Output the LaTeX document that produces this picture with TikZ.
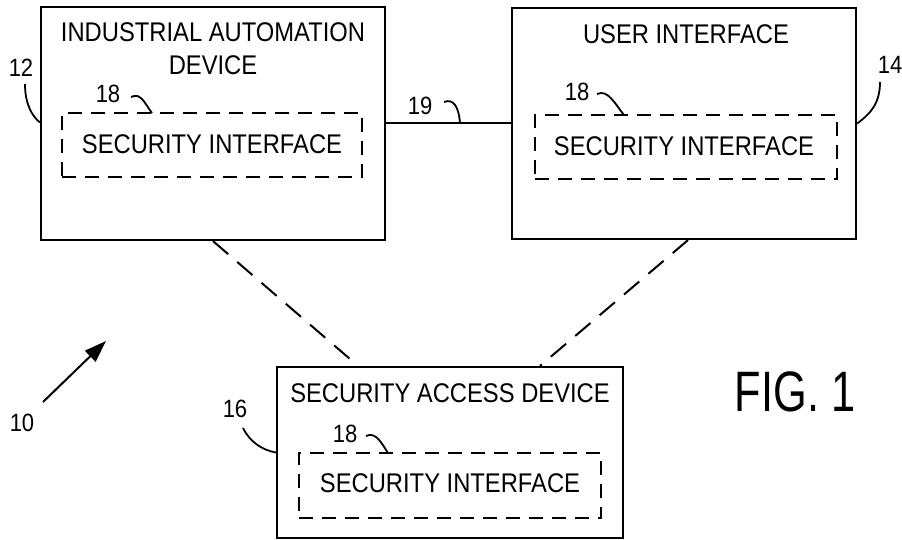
\documentclass[tikz,border=0pt]{standalone}
\usepackage{fontspec}
\setmainfont[FakeStretch=0.88]{Liberation Sans}
\newfontfamily\figfont[FakeStretch=0.76]{Liberation Sans}
\usetikzlibrary{arrows.meta,calc}
\begin{document}
\begin{tikzpicture}[x=1pt,y=-1pt,
  box/.style={draw,line width=2.2pt,rectangle,inner sep=0pt},
  ibox/.style={draw,line width=2pt,rectangle,inner sep=0pt,dash pattern=on 14pt off 9pt},
  txt/.style={inner sep=0pt,font=\fontsize{27}{33}\selectfont,align=center},
  num/.style={inner sep=0pt,font=\fontsize{25}{27}\selectfont},
  lead/.style={line width=1.8pt},
  link/.style={line width=2pt,dash pattern=on 20pt off 12pt}]
\useasboundingbox (0,0) rectangle (902,540);
% boxes
\node[box,minimum width=344pt,minimum height=233pt] (A) at (213,123.5) {};
\node[box,minimum width=344pt,minimum height=231pt] (B) at (684,123.5) {};
\node[box,minimum width=346pt,minimum height=171pt] (C) at (450,452.5) {};
% inner security interfaces
\node[ibox,minimum width=300pt,minimum height=64pt] (SA) at (212,145) {};
\node[ibox,minimum width=302pt,minimum height=64pt] (SB) at (686,147) {};
\node[ibox,minimum width=302pt,minimum height=65pt] (SC) at (450,485.5) {};
% texts
\node[txt] (tA) at (213,48.5) {INDUSTRIAL AUTOMATION\\DEVICE};
\node[txt] (tB) at (686,34) {USER INTERFACE};
\node[txt] (tC) at (450,393) {SECURITY ACCESS DEVICE};
\node[txt] (tSA) at (212,144) {SECURITY INTERFACE};
\node[txt] (tSB) at (684,146) {SECURITY INTERFACE};
\node[txt] (tSC) at (450,483) {SECURITY INTERFACE};
\node[inner sep=0pt,font=\figfont\fontsize{57}{60}\selectfont] (fig) at (795,392) {FIG. 1};
% numbers
\node[num] (n12) at (21,68) {12};
\node[num] (n14) at (890,65) {14};
\node[num] (n16) at (235,409) {16};
\node[num] (n19) at (420,106) {19};
\node[num] (n18a) at (108,94) {18};
\node[num] (n18b) at (577,92) {18};
\node[num] (n18c) at (345,434) {18};
\node[num] (n10) at (22,423) {10};
% connectors
\draw[line width=2pt] (A.east) -- (B.west);
\draw[link] (A.south) -- ($(C.north)+(-92,0)$);
\draw[link] ($(B.south)+(4,0)$) -- ($(C.north)+(90,0)$);
% leaders
\coordinate (l19) at (460,123.5);
\coordinate (e18a) at (152,113);
\coordinate (e18b) at (624,115);
\coordinate (e18c) at (388,453);
\draw[lead] (25,84) .. controls (25,104) and (32,116) .. ($(A.west)+(0,-1)$);
\draw[lead] (880,82) .. controls (880,104) and (870,114) .. (B.east);
\draw[lead] (243,428) .. controls (250,442) and (262,450) .. (C.west);
\draw[lead] (444,102) .. controls (454,98) and (459,108) .. (l19);
\draw[lead] (131,97) .. controls (141,92) and (145,104) .. (e18a);
\draw[lead] (597,94) .. controls (608,89) and (615,104) .. (e18b);
\draw[lead] (366,436) .. controls (376,431) and (382,444) .. (e18c);
% arrow 10
\coordinate (a10s) at (43,402);
\coordinate (a10e) at (106,341);
\draw[line width=2pt,-{Triangle[length=22pt,width=15pt]}] (a10s) -- (a10e);
\end{tikzpicture}
\end{document}
